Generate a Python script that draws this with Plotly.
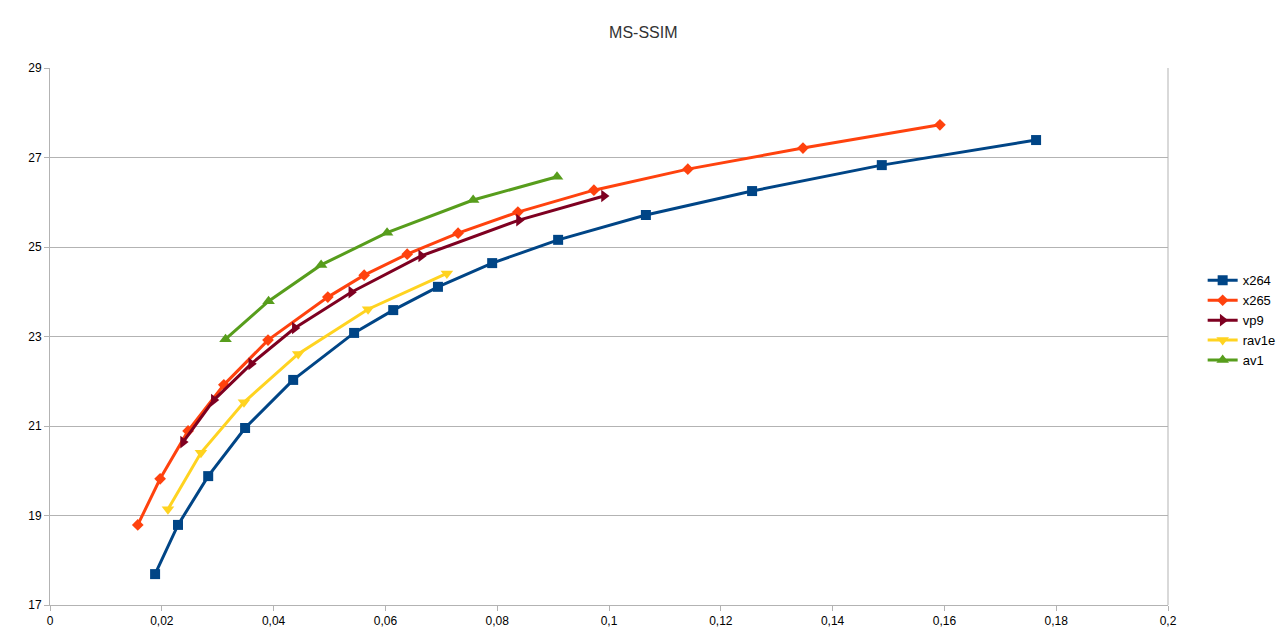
import plotly.graph_objects as go

# bitrate (x) vs MS-SSIM score (y)
x264_x = [0.0188, 0.0229, 0.0283, 0.0349, 0.0435, 0.0544, 0.0614, 0.0694, 0.0791, 0.0909, 0.1066, 0.1256, 0.1488, 0.1764]
x264_y = [17.69, 18.79, 19.88, 20.955, 22.03, 23.08, 23.59, 24.11, 24.64, 25.16, 25.715, 26.25, 26.83, 27.39]

x265_x = [0.0157, 0.0197, 0.0247, 0.0311, 0.0390, 0.0497, 0.0562, 0.0639, 0.0730, 0.0837, 0.0973, 0.1141, 0.1347, 0.1592]
x265_y = [18.79, 19.82, 20.89, 21.92, 22.92, 23.88, 24.37, 24.84, 25.31, 25.78, 26.27, 26.74, 27.21, 27.73]

vp9_x = [0.0238, 0.0293, 0.0360, 0.0438, 0.0539, 0.0664, 0.0839, 0.0991]
vp9_y = [20.64, 21.58, 22.39, 23.19, 23.99, 24.80, 25.60, 26.14]

rav1e_x = [0.0211, 0.0270, 0.0347, 0.0444, 0.0569, 0.0710]
rav1e_y = [19.14, 20.40, 21.53, 22.61, 23.61, 24.41]

av1_x = [0.0314, 0.0391, 0.0485, 0.0603, 0.0757, 0.0907]
av1_y = [22.94, 23.79, 24.60, 25.32, 26.05, 26.57]

x_ticks = [0, 0.02, 0.04, 0.06, 0.08, 0.1, 0.12, 0.14, 0.16, 0.18, 0.2]
x_tick_text = ['0', '0,02', '0,04', '0,06', '0,08', '0,1', '0,12', '0,14', '0,16', '0,18', '0,2']
y_ticks = [17, 19, 21, 23, 25, 27, 29]

series = [
    ('x264', x264_x, x264_y, '#004586', 'square', 10),
    ('x265', x265_x, x265_y, '#ff420e', 'diamond', 9),
    ('vp9', vp9_x, vp9_y, '#7e0021', 'triangle-right', 11),
    ('rav1e', rav1e_x, rav1e_y, '#ffd320', 'triangle-down', 11),
    ('av1', av1_x, av1_y, '#579d1c', 'triangle-up', 11),
]

fig = go.Figure()
for name, xs, ys, color, symbol, size in series:
    fig.add_trace(go.Scatter(
        x=xs, y=ys, name=name, mode='lines+markers',
        line=dict(color=color, width=3),
        marker=dict(color=color, symbol=symbol, size=size),
    ))

# page body has an 8px margin, so the figure is a bit smaller than the window
fig.update_layout(
    width=1277, height=635,
    paper_bgcolor='white', plot_bgcolor='white',
    font=dict(family='Liberation Sans, Arial, sans-serif', size=12, color='#000000'),
    title=dict(text='MS-SSIM', x=0.4975, xanchor='center', y=0.962, yanchor='middle',
               font=dict(size=16, color='#333333')),
    margin=dict(l=42, r=117, t=60, b=38, autoexpand=False),
    showlegend=True,
    legend=dict(x=1.031, xanchor='left', y=0.53, yanchor='middle',
                font=dict(size=13), tracegroupgap=0, itemwidth=30,
                bgcolor='rgba(0,0,0,0)'),
    xaxis=dict(range=[0, 0.2], tickvals=x_ticks, ticktext=x_tick_text,
               showgrid=False, zeroline=False, showline=True, linecolor='#b3b3b3',
               linewidth=1, ticks='outside', tickcolor='#b3b3b3', ticklen=5),
    yaxis=dict(range=[17, 29], tickvals=y_ticks, showgrid=True, gridcolor='#b3b3b3',
               zeroline=False, showline=True, linecolor='#b3b3b3', linewidth=1,
               ticks='outside', tickcolor='#b3b3b3', ticklen=5),
)

# right border of plot area
fig.add_shape(type='line', xref='paper', yref='paper', x0=1, x1=1, y0=0, y1=1,
              line=dict(color='#b3b3b3', width=1))

fig.write_html("out.html")
